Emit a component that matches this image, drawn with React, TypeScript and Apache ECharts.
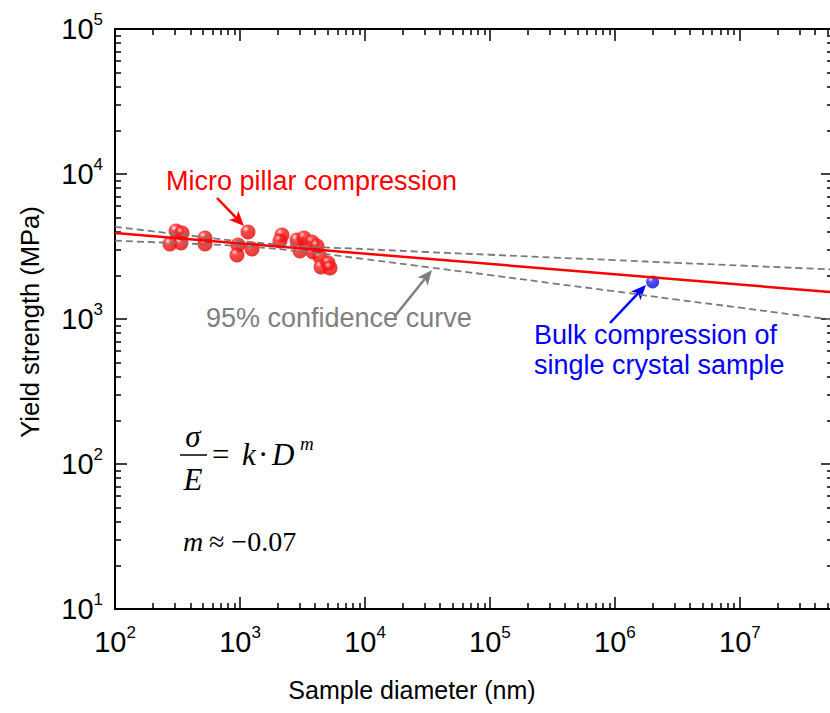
import React, { useEffect, useRef } from 'react';
import * as echarts from 'echarts';

const SANS = "'Liberation Sans', Arial, Helvetica, sans-serif";
const SERIF = "'Liberation Serif', 'Times New Roman', Times, serif";

// Decade exponents that carry a 10^n tick label
const xTickExponents = [2, 3, 4, 5, 6, 7];
const yTickExponents = [1, 2, 3, 4, 5];
const xRange = [1e2, 5.55e7];
const yRange = [1e1, 1e5];

// Micro pillar compression tests (diameter in nm, yield strength in MPa)
const pillarDiameter = [308, 275, 337, 344, 525, 525, 1159, 964, 946, 1247, 2168, 2089, 2858, 3020, 3251, 3767, 3837, 4365, 4446, 5058, 5248, 4130];
const pillarStrength = [4046, 3290, 3342, 3917, 3622, 3290, 3981, 3238, 2761, 3039, 3793, 3451, 3508, 2944, 3622, 3398, 2897, 2679, 2286, 2434, 2249, 3186];

// Bulk single crystal compression
const bulkDiameter = [2.0e6];
const bulkStrength = [1800];

// Power-law fit
const fitDiameter = [1e2, 1e8];
const fitStrength = [3917, 1466];

// 95% confidence band of the fit
const bandDiameter = [1e2, 3.16e2, 1e3, 3.16e3, 1e4, 3.16e4, 1e5, 3.16e5, 1e6, 3.16e6, 1e7, 3.16e7, 6.31e7];
const bandUpper = [4325, 3846, 3443, 3184, 3034, 2897, 2773, 2655, 2547, 2438, 2339, 2239, 2183];
const bandLower = [3467, 3334, 3184, 2917, 2588, 2280, 2009, 1762, 1552, 1358, 1197, 1050, 973];

const zip = (xs: number[], ys: number[]) => xs.map((x, i) => [x, ys[i]]);
const majorValues = (exps: number[]) => exps.map((e) => Math.pow(10, e));
const minorValues = (exps: number[]) => {
  const out: number[] = [];
  exps.forEach((e) => {
    for (let k = 2; k <= 9; k++) out.push(k * Math.pow(10, e));
  });
  return out;
};

const powerLabel = {
  formatter: (v: number) => `{b|10}{s|${Math.round(Math.log10(v))}}`,
  rich: {
    b: { fontFamily: SANS, fontSize: 29, lineHeight: 36, color: '#000' },
    s: { fontFamily: SANS, fontSize: 17, verticalAlign: 'top', color: '#000' },
  },
};

function logAxis(position: string, range: number[], ticks: number[], tickLen: number, showLine: boolean, label?: any) {
  return {
    type: 'log',
    logBase: 10,
    position,
    min: range[0],
    max: range[1],
    axisLine: { show: showLine, onZero: false, lineStyle: { color: '#000', width: 2 } },
    axisTick: { show: true, inside: true, length: tickLen, customValues: ticks, lineStyle: { color: '#000', width: 1.5 } },
    axisLabel: label ? label : { show: false },
    splitLine: { show: false },
    minorTick: { show: false },
    minorSplitLine: { show: false },
  };
}

function arrow(x1: number, y1: number, x2: number, y2: number, color: string) {
  const dx = x2 - x1;
  const dy = y2 - y1;
  const len = Math.hypot(dx, dy);
  const ux = dx / len;
  const uy = dy / len;
  const headLen = 15;
  const headW = 6.5;
  const bx = x2 - ux * headLen;
  const by = y2 - uy * headLen;
  const px = -uy;
  const py = ux;
  const nx = x2 - ux * headLen * 0.75;
  const ny = y2 - uy * headLen * 0.75;
  return [
    { type: 'line', silent: true, shape: { x1, y1, x2: nx, y2: ny }, style: { stroke: color, lineWidth: 2.5 } },
    {
      type: 'polygon',
      silent: true,
      shape: { points: [[x2, y2], [bx + px * headW, by + py * headW], [nx, ny], [bx - px * headW, by - py * headW]] },
      style: { fill: color },
    },
  ];
}

function text(x: number, y: number, str: string, fontSize: number, fill: string, extra: any = {}) {
  return {
    type: 'text',
    x,
    y,
    silent: true,
    style: {
      text: str,
      fontFamily: SANS,
      fontSize,
      fill,
      align: 'left',
      verticalAlign: 'middle',
      ...extra,
    },
  };
}

export default function App() {
  const ref = useRef<HTMLDivElement>(null);

  useEffect(() => {
    document.body.style.margin = '0';
    if (!ref.current) return;
    const chart = echarts.init(ref.current, undefined, { renderer: 'svg' });

    const xMajor = majorValues(xTickExponents);
    const yMajor = majorValues(yTickExponents);
    const xMinor = minorValues(xTickExponents);
    const yMinor = minorValues(yTickExponents.slice(0, -1));

    const redBall = new echarts.graphic.RadialGradient(0.35, 0.3, 0.75, [
      { offset: 0, color: '#ffe6e6' },
      { offset: 0.28, color: '#ff2020' },
      { offset: 1, color: '#e00000' },
    ]);
    const blueBall = new echarts.graphic.RadialGradient(0.35, 0.3, 0.75, [
      { offset: 0, color: '#e0e6ff' },
      { offset: 0.28, color: '#2a2aff' },
      { offset: 1, color: '#0000d0' },
    ]);

    chart.setOption({
      animation: false,
      backgroundColor: '#fff',
      // the plot frame runs a few pixels past the visible right edge
      grid: { left: 115, right: 7, top: 29, bottom: 104, containLabel: false, outerBoundsMode: 'none' },
      xAxis: [
        logAxis('bottom', xRange, xMajor, 12, true, { show: true, customValues: xMajor, margin: 15, ...powerLabel }),
        logAxis('bottom', xRange, xMinor, 6, false),
        logAxis('top', xRange, xMajor, 12, true),
        logAxis('top', xRange, xMinor, 6, false),
      ],
      yAxis: [
        logAxis('left', yRange, yMajor, 12, true, { show: true, customValues: yMajor, margin: 12, ...powerLabel }),
        logAxis('left', yRange, yMinor, 6, false),
        logAxis('right', yRange, yMajor, 12, true),
        logAxis('right', yRange, yMinor, 6, false),
      ],
      series: [
        {
          name: 'upper 95%',
          type: 'line',
          data: zip(bandDiameter, bandUpper),
          showSymbol: false,
          smooth: true,
          lineStyle: { color: '#7a7a7a', width: 1.8, type: [7, 4] },
        },
        {
          name: 'lower 95%',
          type: 'line',
          data: zip(bandDiameter, bandLower),
          showSymbol: false,
          smooth: true,
          lineStyle: { color: '#7a7a7a', width: 1.8, type: [7, 4] },
        },
        {
          name: 'fit',
          type: 'line',
          data: zip(fitDiameter, fitStrength),
          showSymbol: false,
          lineStyle: { color: '#ff0000', width: 2.5 },
        },
        {
          name: 'Micro pillar compression',
          type: 'scatter',
          data: zip(pillarDiameter, pillarStrength),
          symbol: 'circle',
          symbolSize: 15,
          itemStyle: { color: redBall, borderWidth: 0 },
        },
        {
          name: 'Bulk compression',
          type: 'scatter',
          data: zip(bulkDiameter, bulkStrength),
          symbol: 'circle',
          symbolSize: 13,
          itemStyle: { color: blueBall, borderWidth: 0 },
        },
      ],
      graphic: [
        // axis titles
        {
          type: 'text',
          x: 412,
          y: 690,
          silent: true,
          style: { text: 'Sample diameter (nm)', fontFamily: SANS, fontSize: 25, fill: '#000', align: 'center', verticalAlign: 'middle' },
        },
        {
          type: 'text',
          x: 30,
          y: 322,
          rotation: Math.PI / 2,
          silent: true,
          style: { text: 'Yield strength (MPa)', fontFamily: SANS, fontSize: 25.5, fill: '#000', align: 'center', verticalAlign: 'middle' },
        },
        // annotations
        text(166, 181, 'Micro pillar compression', 27, '#ff0000'),
        ...arrow(217, 198, 244, 226, '#ff0000'),
        text(206, 318, '95% confidence curve', 27, '#7f7f7f'),
        ...arrow(395, 316, 432, 270, '#7f7f7f'),
        text(534, 335, 'Bulk compression of', 27, '#0000ff'),
        text(534, 365, 'single crystal sample', 27, '#0000ff'),
        ...arrow(610, 323, 646, 285, '#0000ff'),
        // sigma / E = k * D^m
        text(193, 436, 'σ', 31, '#000', { fontFamily: SERIF, fontStyle: 'italic', align: 'center' }),
        { type: 'line', silent: true, shape: { x1: 180, y1: 455, x2: 207, y2: 455 }, style: { stroke: '#000', lineWidth: 1.5 } },
        text(193, 479, 'E', 31, '#000', { fontFamily: SERIF, fontStyle: 'italic', align: 'center' }),
        text(212, 454, '=', 31, '#000', { fontFamily: SERIF }),
        text(242, 454, 'k', 31, '#000', { fontFamily: SERIF, fontStyle: 'italic' }),
        text(258, 454, '·', 31, '#000', { fontFamily: SERIF }),
        text(272, 454, 'D', 31, '#000', { fontFamily: SERIF, fontStyle: 'italic' }),
        text(300, 443, 'm', 19, '#000', { fontFamily: SERIF, fontStyle: 'italic' }),
        text(183, 541, 'm', 28, '#000', { fontFamily: SERIF, fontStyle: 'italic' }),
        text(209, 541, '≈ −0.07', 28, '#000', { fontFamily: SERIF }),
      ],
    });

    return () => chart.dispose();
  }, []);

  return (
    <div style={{ width: 830, height: 713, overflow: 'hidden' }}>
      <div ref={ref} style={{ width: 840, height: 713 }} />
    </div>
  );
}
